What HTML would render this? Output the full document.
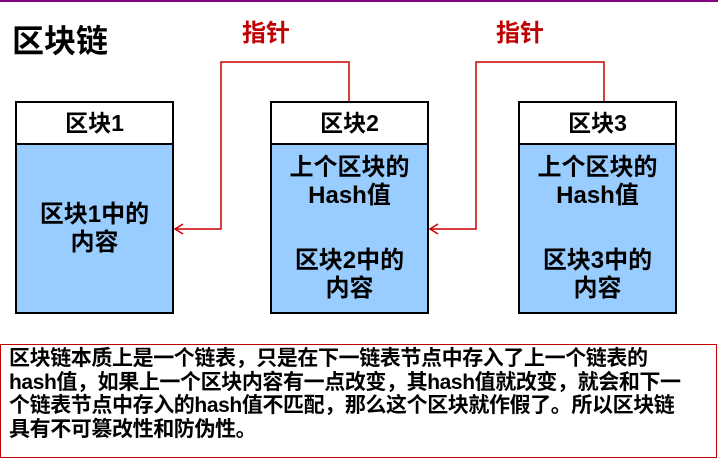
<!DOCTYPE html>
<html><head><meta charset="utf-8"><style>
body{margin:0;width:718px;height:456px;background:#fff;position:relative;overflow:hidden;font-family:"Liberation Sans","Noto Sans CJK SC",sans-serif;font-weight:bold}
.a{position:absolute}
.hd{position:absolute;border:2px solid #000;background:#fff;box-sizing:border-box;text-align:center;font-size:23px;line-height:40px;white-space:nowrap}
.bd{position:absolute;border:2px solid #000;border-top:none;background:#99ccff;box-sizing:border-box}
.t{position:absolute;left:-10px;right:-10px;text-align:center;font-size:24px;line-height:28px;white-space:nowrap}
.red{color:#c00000;font-size:24px}
</style></head><body>
<div class="a" style="left:0;top:0;width:718px;height:2px;background:#800080"></div>
<div class="a" style="left:12px;top:22px;font-size:32px;line-height:38px">区块链</div>
<div class="a red" style="left:242px;top:19px;line-height:30px">指针</div>
<div class="a red" style="left:496px;top:19px;line-height:30px">指针</div>
<svg class="a" style="left:0;top:0" width="718" height="456">
<g fill="none" stroke="#cc0000" stroke-width="1.5">
<polyline points="349,101 349,62 221,62 221,229 176,229"/>
<polyline points="604,101 604,62 476,62 476,229 431,229"/>
<polyline points="183,224 175,229 183,234"/>
<polyline points="438,224 430,229 438,234"/>
</g>
</svg>
<div class="hd" style="left:15px;top:101px;width:159px;height:44px">区块1</div>
<div class="bd" style="left:15px;top:145px;width:159px;height:169px">
<div class="t" style="top:56px">区块1中的</div><div class="t" style="top:84px">内容</div></div>
<div class="hd" style="left:270px;top:101px;width:159px;height:44px">区块2</div>
<div class="bd" style="left:270px;top:145px;width:159px;height:169px">
<div class="t" style="top:9px">上个区块的</div><div class="t" style="top:37px">Hash值</div>
<div class="t" style="top:102px">区块2中的</div><div class="t" style="top:130px">内容</div></div>
<div class="hd" style="left:518px;top:101px;width:159px;height:44px">区块3</div>
<div class="bd" style="left:518px;top:145px;width:159px;height:169px">
<div class="t" style="top:9px">上个区块的</div><div class="t" style="top:37px">Hash值</div>
<div class="t" style="top:102px">区块3中的</div><div class="t" style="top:130px">内容</div></div>
<div class="a" style="left:0;top:344px;width:717px;height:114px;border:1px solid #c00000;box-sizing:border-box;padding:2px 0 0 8px;font-size:21px;line-height:23.5px;letter-spacing:-0.4px;white-space:nowrap">区块链本质上是一个链表，只是在下一链表节点中存入了上一个链表的<br>hash值，如果上一个区块内容有一点改变，其hash值就改变，就会和下一<br>个链表节点中存入的hash值不匹配，那么这个区块就作假了。所以区块链<br>具有不可篡改性和防伪性。</div>
</body></html>
